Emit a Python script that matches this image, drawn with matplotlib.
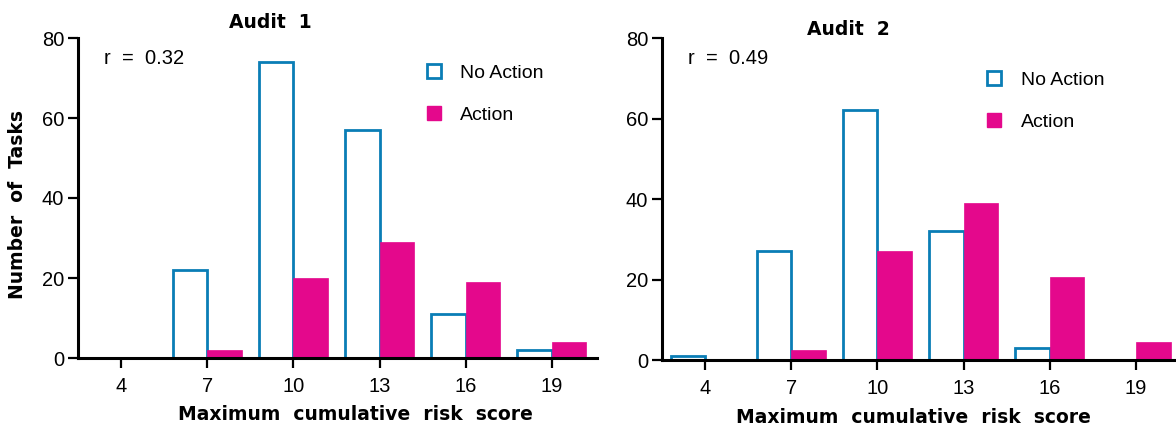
import matplotlib
matplotlib.use("Agg")
import matplotlib.pyplot as plt
from matplotlib.patches import Patch
import numpy as np

plt.rcParams['font.family'] = ['Liberation Sans', 'DejaVu Sans']

scores = [4, 7, 10, 13, 16, 19]
tick_labels = ['4', '7', '10', '13', '16', '19']
audit1_no_action = [0, 22, 74, 57, 11, 2]
audit1_action = [0, 2, 20, 29, 19, 4]
audit2_no_action = [1, 27, 62, 32, 3, 0]
audit2_action = [0, 2.5, 27, 39, 20.5, 4.5]
titles = ['Audit  1', 'Audit  2']
r_texts = ['r  =  0.32', 'r  =  0.49']

BLUE = '#0a7db6'
MAGENTA = '#e4088c'
BOLD_FONT = ['DejaVu Sans']

fig = plt.figure(figsize=(11.76, 4.30), dpi=100)
H = 430.0
W = 1176.0
ax1 = fig.add_axes([78 / W, 1 - 358 / H, (597 - 78) / W, (358 - 38) / H])
ax2 = fig.add_axes([662 / W, 1 - 360 / H, (1176 - 662) / W, (360 - 38) / H])

configs = [
    (ax1, audit1_no_action, audit1_action, (2.5, 20.57), 0.37, 1.05, (0.672, 0.918)),
    (ax2, audit2_no_action, audit2_action, (2.5, 20.39), 0.363, 1.025, (0.633, 0.898)),
]

bw = 1.2
for i, (ax, na, ac, xlim, tx, ty, legpos) in enumerate(configs):
    ax.bar(scores, na, width=-bw, align='edge', facecolor='white',
           edgecolor=BLUE, linewidth=2.0, zorder=2)
    ax.bar(scores, ac, width=bw, align='edge', facecolor=MAGENTA,
           edgecolor=MAGENTA, linewidth=0.5, zorder=2)
    ax.set_xlim(*xlim)
    ax.set_ylim(0, 80)
    ax.set_xticks(scores)
    ax.set_xticklabels(tick_labels)
    ax.set_yticks([0, 20, 40, 60, 80])
    for s in ['top', 'right']:
        ax.spines[s].set_visible(False)
    for s in ['left', 'bottom']:
        ax.spines[s].set_linewidth(2.2)
        ax.spines[s].set_zorder(3)
    ax.tick_params(axis='both', direction='out', length=7, width=1.6,
                   labelsize=14.5, colors='black', pad=3)
    ax.tick_params(axis='x', pad=7)
    ax.set_xlabel('Maximum  cumulative  risk  score', fontsize=13.5,
                  fontweight='bold', family=BOLD_FONT)
    ax.text(tx, ty, titles[i], transform=ax.transAxes, ha='center',
            va='center', fontsize=13.5, fontweight='bold', family=BOLD_FONT)
    ax.text(0.05, 0.935, r_texts[i], transform=ax.transAxes, ha='left',
            va='center', fontsize=14.5)
    handles = [Patch(facecolor='white', edgecolor=BLUE, linewidth=2.0),
               Patch(facecolor=MAGENTA, edgecolor=MAGENTA)]
    ax.legend(handles, ['No Action', 'Action'], loc='upper left',
              bbox_to_anchor=legpos, frameon=False, fontsize=14,
              handlelength=0.72, handleheight=0.72, labelspacing=1.25,
              handletextpad=1.0, borderaxespad=0, borderpad=0)

ax1.set_ylabel('Number  of  Tasks', fontsize=13.5, fontweight='bold',
               family=BOLD_FONT)
ax1.yaxis.set_label_coords(-0.098, 0.48)
ax1.xaxis.set_label_coords(0.535, -0.148)
ax2.xaxis.set_label_coords(0.49, -0.15)

fig.savefig('out.png', dpi=100)
